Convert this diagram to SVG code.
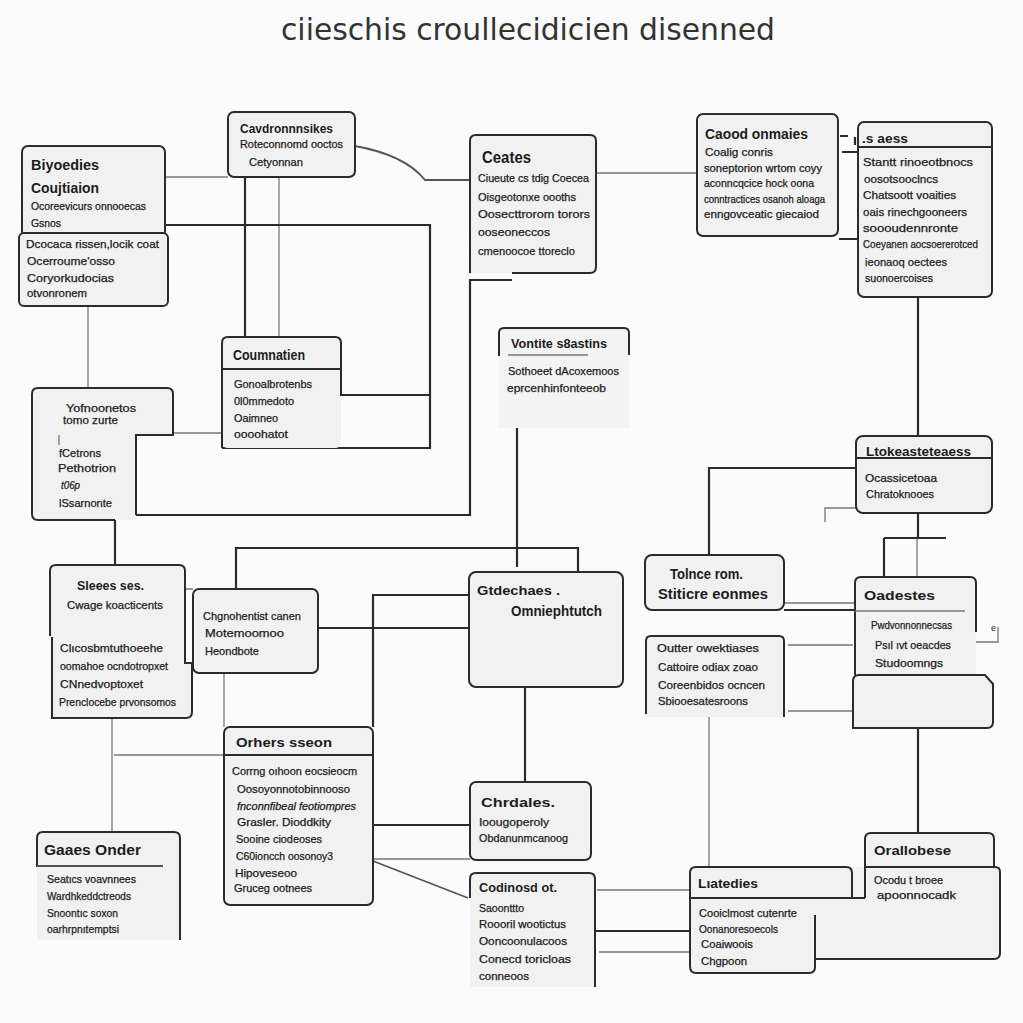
<svg xmlns="http://www.w3.org/2000/svg" width="1023" height="1023" viewBox="0 0 1023 1023">
<style>
.bg{fill:#fbfbfb}
.box{fill:#f1f1f1;stroke:#2b2b2b;stroke-width:2}
.fl{fill:#f1f1f1;stroke:none}
.fl2{fill:#f3f3f3;stroke:none}
.st{fill:none;stroke:#2b2b2b;stroke-width:2}
.c1{fill:none;stroke:#2b2b2b;stroke-width:2.2}
.c2{fill:none;stroke:#777;stroke-width:1.3}
.c3{fill:none;stroke:#555;stroke-width:1.8}
text{font-family:"Liberation Sans",Arial,sans-serif;fill:#1c1c1c}
.h{font-size:13.5px;font-weight:bold}
.b{font-size:11px;stroke:#1c1c1c;stroke-width:0.25}
.s{font-size:10.5px;stroke:#1c1c1c;stroke-width:0.25}
.ttl{font-family:"DejaVu Sans","Liberation Sans",sans-serif;font-size:30px;fill:#333}
</style>
<rect class="bg" x="0" y="0" width="1023" height="1023"/>
<text class="ttl" x="281" y="40" textLength="494" lengthAdjust="spacingAndGlyphs">ciieschis croullecidicien disenned</text>

<g id="connectors">
<path class="c2" d="M165,177 H228"/>
<path class="c2" d="M596,173 H697"/>
<path class="c2" d="M88,306 V388"/>
<path class="c2" d="M173,433 H222"/>
<path class="c2" d="M279,177 V337"/>
<path class="c2" d="M145,589 H193"/>
<path class="c2" d="M224,673 V727"/>
<path class="c2" d="M112,718 V832"/>
<path class="c2" d="M114,755 H224"/>
<path class="c2" d="M825,522 V508 H856"/>
<path class="c2" d="M917,538 V577"/>
<path class="c2" d="M784,603 H857"/>
<path class="c2" d="M788,645 H853"/>
<path class="c2" d="M788,711 H853"/>
<path class="c2" d="M709,717 V867"/>
<path class="c2" d="M373,859 H470"/>
<path class="c2" d="M597,890 H690"/>
<path class="c2" d="M599,952 H690"/>
<path class="c2" d="M815,915 H887"/>
<path class="c2" d="M976,642 H998 V627"/>
<path class="c2" d="M143,426 H173 M143,431 H165"/>
<path class="c3" d="M355,146 Q405,155 425,180 H470"/>
<path class="c3" d="M373,861 L468,898"/>
<path class="c1" d="M165,225 H430 V448 H222"/>
<path class="c1" d="M245,177 V337"/>
<path class="c1" d="M918,297 V436"/>
<path class="c1" d="M840,136 H848 M842,152 H858 M839,239 H858 M855,137 V145"/>
<path class="c1" d="M59,515 H470 V280 H512"/>
<path class="c1" d="M115,520 V565"/>
<path class="c1" d="M517,392 V567"/>
<path class="c1" d="M236,589 V548 H578 V572"/>
<path class="c1" d="M318,628 H469"/>
<path class="c1" d="M373,727 V595 H469"/>
<path class="c1" d="M525,687 V782"/>
<path class="c1" d="M856,468 H709 V555"/>
<path class="c1" d="M918,513 V538 M884,538 H946 M884,538 V577"/>
<path class="c1" d="M784,610 H857"/>
<path class="c1" d="M918,728 V833"/>
<path class="c1" d="M373,825 H470"/>
<path class="c1" d="M595,931 H690"/>
</g>

<g id="n-biyoedies">
<rect class="box" x="22" y="146" width="143" height="92" rx="6"/>
<text class="h" x="31" y="170" style="font-size:15px" textLength="68" lengthAdjust="spacingAndGlyphs">Biyoedies</text>
<text class="h" x="31" y="193" style="font-size:15px" textLength="68" lengthAdjust="spacingAndGlyphs">Coujtiaion</text>
<text class="s" x="31" y="210" textLength="115" lengthAdjust="spacingAndGlyphs">Ocoreevicurs onnooecas</text>
<text class="s" x="31" y="227" textLength="30" lengthAdjust="spacingAndGlyphs">Gsnos</text>
</g>
<g id="n-dcocaca">
<rect class="box" x="19" y="233" width="149" height="73" rx="5"/>
<text class="s" x="26" y="248" textLength="133" lengthAdjust="spacingAndGlyphs">Dcocaca rissen,locik coat</text>
<text class="s" x="27" y="265" textLength="88" lengthAdjust="spacingAndGlyphs">Ocerroume'osso</text>
<text class="s" x="27" y="282" textLength="87" lengthAdjust="spacingAndGlyphs">Coryorkudocias</text>
<text class="s" x="27" y="297" textLength="60" lengthAdjust="spacingAndGlyphs">otvonronem</text>
</g>
<g id="n-cavdron">
<rect class="box" x="228" y="112" width="127" height="65" rx="6"/>
<text class="h" x="240" y="133" textLength="93" lengthAdjust="spacingAndGlyphs">Cavdronnnsikes</text>
<text class="s" x="240" y="148" textLength="103" lengthAdjust="spacingAndGlyphs">Roteconnomd ooctos</text>
<text class="s" x="249" y="166" textLength="54" lengthAdjust="spacingAndGlyphs">Cetyonnan</text>
</g>
<g id="n-ceates">
<rect class="fl" x="470" y="135" width="126" height="138" rx="6"/>
<path class="st" d="M470,273 V141 Q470,135 476,135 H590 Q596,135 596,141 V267 Q596,273 590,273 H512"/>
<text x="482" y="163" style="font-size:16px;font-weight:600" textLength="49" lengthAdjust="spacingAndGlyphs">Ceates</text>
<text class="s" x="478" y="182" textLength="111" lengthAdjust="spacingAndGlyphs">Ciueute cs tdig Coecea</text>
<text class="s" x="478" y="201" textLength="98" lengthAdjust="spacingAndGlyphs">Oisgeotonxe oooths</text>
<text class="s" x="478" y="218" textLength="112" lengthAdjust="spacingAndGlyphs">Oosecttrorom torors</text>
<text class="s" x="478" y="236" textLength="72" lengthAdjust="spacingAndGlyphs">ooseoneccos</text>
<text class="s" x="478" y="255" textLength="97" lengthAdjust="spacingAndGlyphs">cmenoocoe ttoreclo</text>
</g>
<g id="n-caood">
<rect class="box" x="697" y="114" width="141" height="122" rx="6"/>
<text class="h" x="705" y="139" style="font-size:14.5px" textLength="103" lengthAdjust="spacingAndGlyphs">Caood onmaies</text>
<text class="b" x="705" y="156" textLength="68" lengthAdjust="spacingAndGlyphs">Coalig conris</text>
<text class="s" x="704" y="172" textLength="118" lengthAdjust="spacingAndGlyphs">soneptorion wrtom coyy</text>
<text class="s" x="704" y="187" textLength="110" lengthAdjust="spacingAndGlyphs">aconncqcice hock oona</text>
<text class="s" x="704" y="203" textLength="121" lengthAdjust="spacingAndGlyphs">conntractices osanoh aloaga</text>
<text class="s" x="704" y="218" textLength="115" lengthAdjust="spacingAndGlyphs">enngovceatic giecaiod</text>
</g>
<g id="n-saess">
<rect class="box" x="858" y="122" width="134" height="175" rx="6"/>
<line class="st" x1="858" y1="147" x2="992" y2="147"/>
<text class="h" x="862" y="143" textLength="46" lengthAdjust="spacingAndGlyphs">.s aess</text>
<text class="s" x="863" y="166" textLength="110" lengthAdjust="spacingAndGlyphs">Stantt rinoeotbnocs</text>
<text class="s" x="864" y="183" textLength="74" lengthAdjust="spacingAndGlyphs">oosotsooclncs</text>
<text class="s" x="863" y="199" textLength="93" lengthAdjust="spacingAndGlyphs">Chatsoott voaities</text>
<text class="s" x="863" y="216" textLength="104" lengthAdjust="spacingAndGlyphs">oais rinechgooneers</text>
<text class="s" x="863" y="232" textLength="95" lengthAdjust="spacingAndGlyphs">soooudennronte</text>
<text class="s" x="863" y="248" textLength="115" lengthAdjust="spacingAndGlyphs">Coeyanen aocsoererotced</text>
<text class="s" x="865" y="266" textLength="82" lengthAdjust="spacingAndGlyphs">ieonaoq oectees</text>
<text class="s" x="865" y="282" textLength="68" lengthAdjust="spacingAndGlyphs">suonoercoises</text>
</g>
<g id="n-coumnatien">
<rect class="fl" x="222" y="337" width="119" height="111" rx="5"/>
<path class="st" d="M222,448 V343 Q222,337 228,337 H335 Q341,337 341,343 V395 H430"/>
<line class="st" x1="222" y1="369" x2="341" y2="369"/>
<text class="h" x="233" y="360" style="font-size:14px" textLength="72" lengthAdjust="spacingAndGlyphs">Coumnatien</text>
<text class="s" x="234" y="388" textLength="78" lengthAdjust="spacingAndGlyphs">Gonoalbrotenbs</text>
<text class="s" x="234" y="405" textLength="60" lengthAdjust="spacingAndGlyphs">0l0mmedoto</text>
<text class="s" x="234" y="422" textLength="44" lengthAdjust="spacingAndGlyphs">Oaimneo</text>
<text class="s" x="234" y="438" textLength="54" lengthAdjust="spacingAndGlyphs">oooohatot</text>
</g>
<g id="n-yofnoonetos">
<path class="fl" d="M38,388 H167 Q173,388 173,394 V435 H136 V520 H38 Q32,520 32,514 V394 Q32,388 38,388 Z"/>
<path class="st" d="M115,520 H38 Q32,520 32,514 V394 Q32,388 38,388 H167 Q173,388 173,394 V435 H136 V515"/>
<path class="c2" d="M59,435 V445"/>
<text class="s" x="66" y="412" textLength="70" lengthAdjust="spacingAndGlyphs">Yofnoonetos</text>
<text class="s" x="63" y="424" textLength="55" lengthAdjust="spacingAndGlyphs">tomo zurte</text>
<text class="s" x="59" y="457" textLength="42" lengthAdjust="spacingAndGlyphs">fCetrons</text>
<text class="s" x="58" y="472" textLength="58" lengthAdjust="spacingAndGlyphs">Pethotrion</text>
<text class="s" x="61" y="489" font-style="italic" textLength="19" lengthAdjust="spacingAndGlyphs">t06p</text>
<text class="s" x="59" y="507" textLength="53" lengthAdjust="spacingAndGlyphs">lSsarnonte</text>
</g>
<g id="n-vontite">
<rect class="fl2" x="499" y="328" width="130" height="100"/>
<path class="st" d="M499,356 V333 Q499,328 504,328 H624 Q629,328 629,333 V355"/>
<line class="c2" x1="508" y1="355" x2="588" y2="355"/>
<text class="h" x="511" y="348" textLength="96" lengthAdjust="spacingAndGlyphs">Vontite s8astins</text>
<text class="s" x="508" y="375" textLength="111" lengthAdjust="spacingAndGlyphs">Sothoeet dAcoxemoos</text>
<text class="s" x="507" y="392" textLength="99" lengthAdjust="spacingAndGlyphs">eprcenhinfonteeob</text>
</g>
<g id="n-sleees">
<path class="fl" d="M56,565 H179 Q185,565 185,571 V663 H192 V712 Q192,718 186,718 H52 V637 H50 V571 Q50,565 56,565 Z"/>
<path class="st" d="M50,636 V571 Q50,565 56,565 H179 Q185,565 185,571 V663 H192 V712 Q192,718 186,718 H52 V637"/>
<text class="h" x="77" y="590" textLength="67" lengthAdjust="spacingAndGlyphs">Sleees ses.</text>
<text class="s" x="67" y="609" textLength="96" lengthAdjust="spacingAndGlyphs">Cwage koacticents</text>
<text class="s" x="60" y="652" textLength="103" lengthAdjust="spacingAndGlyphs">Clıcosbmtuthoeehe</text>
<text class="s" x="60" y="670" textLength="108" lengthAdjust="spacingAndGlyphs">oomahoe ocndotropxet</text>
<text class="s" x="60" y="688" textLength="83" lengthAdjust="spacingAndGlyphs">CNnedvoptoxet</text>
<text class="s" x="59" y="706" textLength="117" lengthAdjust="spacingAndGlyphs">Prenclocebe prvonsomos</text>
</g>
<g id="n-chgnohentist">
<rect class="box" x="193" y="589" width="125" height="84" rx="6"/>
<text class="s" x="203" y="620" textLength="98" lengthAdjust="spacingAndGlyphs">Chgnohentist canen</text>
<text class="s" x="205" y="637" textLength="79" lengthAdjust="spacingAndGlyphs">Motemoomoo</text>
<text class="s" x="205" y="655" textLength="54" lengthAdjust="spacingAndGlyphs">Heondbote</text>
</g>
<g id="n-gtdechaes">
<rect class="box" x="469" y="572" width="154" height="115" rx="7"/>
<text x="477" y="595" style="font-size:13.5px;font-weight:600" textLength="83" lengthAdjust="spacingAndGlyphs">Gtdechaes .</text>
<text x="511" y="616" style="font-size:14.5px;font-weight:600" textLength="91" lengthAdjust="spacingAndGlyphs">Omniephtutch</text>
</g>
<g id="n-tolnce">
<rect class="box" x="645" y="555" width="139" height="55" rx="7"/>
<text x="670" y="579" style="font-size:14px;font-weight:600" textLength="73" lengthAdjust="spacingAndGlyphs">Tolnce rom.</text>
<text x="658" y="599" style="font-size:14px;font-weight:600" textLength="110" lengthAdjust="spacingAndGlyphs">Stiticre eonmes</text>
</g>
<g id="n-ltokeas">
<rect class="box" x="856" y="436" width="136" height="77" rx="7"/>
<line class="st" x1="856" y1="458" x2="992" y2="458"/>
<text class="h" x="866" y="456" style="font-size:12.5px" textLength="105" lengthAdjust="spacingAndGlyphs">Ltokeasteteaess</text>
<text class="s" x="865" y="482" textLength="72" lengthAdjust="spacingAndGlyphs">Ocassicetoaa</text>
<text class="s" x="866" y="498" textLength="68" lengthAdjust="spacingAndGlyphs">Chratoknooes</text>
</g>
<g id="n-oadestes">
<rect class="fl" x="855" y="577" width="121" height="98" rx="5"/>
<path class="st" d="M855,675 V583 Q855,577 861,577 H970 Q976,577 976,583 V632"/>
<line class="c2" x1="855" y1="611" x2="965" y2="611"/>
<text class="h" x="864" y="600" textLength="71" lengthAdjust="spacingAndGlyphs">Oadestes</text>
<text class="s" x="871" y="629" textLength="81" lengthAdjust="spacingAndGlyphs">Pwdvonnonnecsas</text>
<text class="s" x="875" y="649" textLength="76" lengthAdjust="spacingAndGlyphs">Psıl ıvt oeacdes</text>
<text class="s" x="875" y="667" textLength="68" lengthAdjust="spacingAndGlyphs">Studoomngs</text>
<text x="991" y="631" style="font-size:9px">e</text>
</g>
<g id="n-blank">
<path class="box" d="M853,728 V681 Q853,675 859,675 H985 L993,684 V722 Q993,728 987,728 Z"/>
</g>
<g id="n-outter">
<rect class="fl" x="646" y="636" width="138" height="81"/>
<path class="st" d="M646,714 V641 Q646,636 651,636 H779 Q784,636 784,641 V717"/>
<text class="b" x="657" y="652" textLength="102" lengthAdjust="spacingAndGlyphs">Outter owektiases</text>
<text class="b" x="658" y="671" textLength="100" lengthAdjust="spacingAndGlyphs">Cattoire odiax zoao</text>
<text class="b" x="658" y="689" textLength="107" lengthAdjust="spacingAndGlyphs">Coreenbidos ocncen</text>
<text class="s" x="658" y="705" textLength="90" lengthAdjust="spacingAndGlyphs">Sbiooesatesroons</text>
</g>
<g id="n-orhers">
<rect class="box" x="224" y="727" width="149" height="178" rx="6"/>
<line class="st" x1="224" y1="755" x2="373" y2="755"/>
<text class="h" x="236" y="747" textLength="96" lengthAdjust="spacingAndGlyphs">Orhers sseon</text>
<text class="s" x="232" y="775" textLength="125" lengthAdjust="spacingAndGlyphs">Corrng oıhoon eocsieocm</text>
<text class="s" x="237" y="793" textLength="113" lengthAdjust="spacingAndGlyphs">Oosoyonnotobinnooso</text>
<text class="s" x="237" y="810" font-style="italic" textLength="119" lengthAdjust="spacingAndGlyphs">fnconnfibeal feotiompres</text>
<text class="s" x="237" y="826" textLength="94" lengthAdjust="spacingAndGlyphs">Grasler. Dioddkity</text>
<text class="s" x="236" y="843" textLength="86" lengthAdjust="spacingAndGlyphs">Sooine ciodeoses</text>
<text class="s" x="236" y="860" textLength="97" lengthAdjust="spacingAndGlyphs">C60ioncch oosonoy3</text>
<text class="s" x="235" y="877" textLength="62" lengthAdjust="spacingAndGlyphs">Hipoveseoo</text>
<text class="s" x="234" y="892" textLength="78" lengthAdjust="spacingAndGlyphs">Gruceg ootnees</text>
</g>
<g id="n-gaaes">
<rect class="fl" x="37" y="832" width="143" height="108"/>
<path class="st" d="M37,867 V838 Q37,832 43,832 H174 Q180,832 180,838 V940"/>
<line class="c3" x1="37" y1="866" x2="163" y2="866"/>
<text class="h" x="44" y="855" style="font-size:15px" textLength="97" lengthAdjust="spacingAndGlyphs">Gaaes Onder</text>
<text class="s" x="47" y="883" textLength="89" lengthAdjust="spacingAndGlyphs">Seatıcs voavnnees</text>
<text class="s" x="47" y="900" textLength="84" lengthAdjust="spacingAndGlyphs">Wardhkeddctreods</text>
<text class="s" x="47" y="917" textLength="71" lengthAdjust="spacingAndGlyphs">Snoontıc soxon</text>
<text class="s" x="47" y="933" textLength="72" lengthAdjust="spacingAndGlyphs">oarhrpnıtemptsi</text>
</g>
<g id="n-chrdales">
<rect class="box" x="470" y="782" width="121" height="78" rx="6"/>
<text class="h" x="481" y="807" textLength="74" lengthAdjust="spacingAndGlyphs">Chrdales.</text>
<text class="s" x="479" y="826" textLength="70" lengthAdjust="spacingAndGlyphs">Ioougoperoly</text>
<text class="s" x="479" y="842" textLength="89" lengthAdjust="spacingAndGlyphs">Obdanunmcanoog</text>
</g>
<g id="n-codinosd">
<rect class="fl" x="470" y="873" width="125" height="114"/>
<path class="st" d="M470,898 V879 Q470,873 476,873 H589 Q595,873 595,879 V987"/>
<text class="h" x="479" y="892" textLength="78" lengthAdjust="spacingAndGlyphs">Codinosd ot.</text>
<text class="s" x="479" y="912" textLength="45" lengthAdjust="spacingAndGlyphs">Saoonttto</text>
<text class="s" x="479" y="928" textLength="87" lengthAdjust="spacingAndGlyphs">Roooril wootictus</text>
<text class="s" x="479" y="945" textLength="88" lengthAdjust="spacingAndGlyphs">Ooncoonulacoos</text>
<text class="s" x="479" y="963" textLength="92" lengthAdjust="spacingAndGlyphs">Conecd toricloas</text>
<text class="s" x="479" y="980" textLength="50" lengthAdjust="spacingAndGlyphs">conneoos</text>
</g>
<g id="n-orallobese">
<rect class="fl" x="815" y="867" width="185" height="92" rx="5"/>
<rect class="fl" x="865" y="833" width="129" height="40" rx="5"/>
<path class="st" d="M865,898 V839 Q865,833 871,833 H988 Q994,833 994,839 V867"/>
<line class="st" x1="865" y1="867" x2="994" y2="867"/>
<path class="st" d="M994,867 H995 Q1000,867 1000,872 V953 Q1000,959 994,959 H815"/>
<text class="h" x="874" y="855" textLength="77" lengthAdjust="spacingAndGlyphs">Orallobese</text>
<text class="s" x="874" y="884" textLength="69" lengthAdjust="spacingAndGlyphs">Ocodu t broee</text>
<text class="s" x="877" y="899" textLength="79" lengthAdjust="spacingAndGlyphs">apoonnocadk</text>
</g>
<g id="n-liatedies">
<rect class="fl" x="690" y="867" width="162" height="31" rx="5"/>
<rect class="fl" x="690" y="890" width="125" height="83"/>
<path class="st" d="M690,967 V873 Q690,867 696,867 H846 Q852,867 852,873 V898"/>
<line class="st" x1="690" y1="898" x2="865" y2="898"/>
<path class="st" d="M690,966 Q690,973 696,973 H809 Q815,973 815,967 V915"/>
<text class="h" x="698" y="888" textLength="60" lengthAdjust="spacingAndGlyphs">Lıatedies</text>
<text class="s" x="699" y="917" textLength="98" lengthAdjust="spacingAndGlyphs">Cooiclmost cutenrte</text>
<text class="s" x="699" y="933" textLength="79" lengthAdjust="spacingAndGlyphs">Oonanoresoecols</text>
<text class="s" x="701" y="948" textLength="52" lengthAdjust="spacingAndGlyphs">Coaiwoois</text>
<text class="s" x="701" y="965" textLength="46" lengthAdjust="spacingAndGlyphs">Chgpoon</text>
</g>
</svg>
